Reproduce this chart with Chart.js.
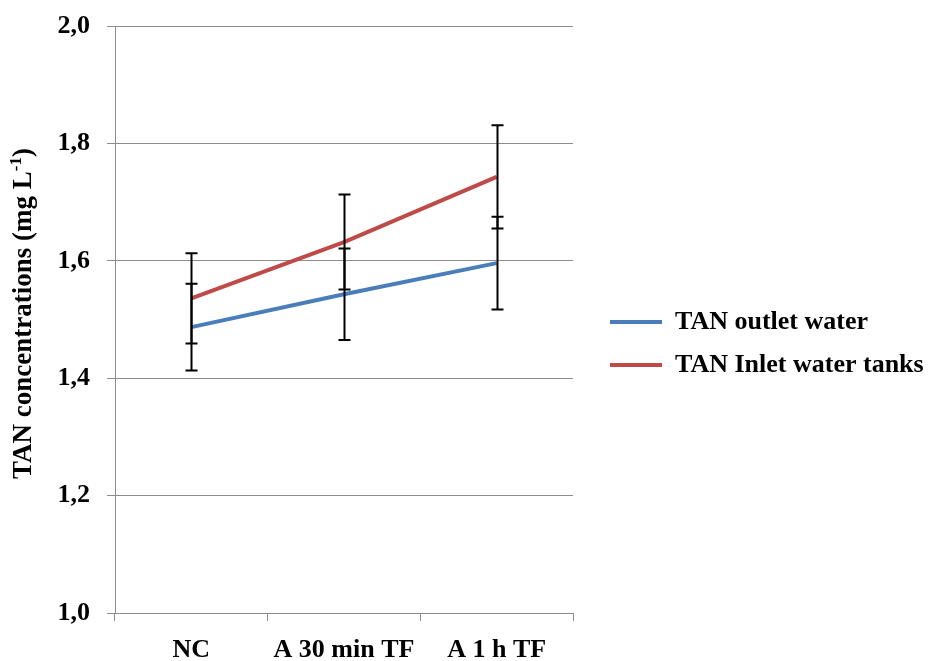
<!DOCTYPE html>
<html>
<head>
<meta charset="utf-8">
<script src="https://cdn.jsdelivr.net/npm/chart.js@4/dist/chart.umd.min.js"></script>
<style>
  html, body { margin: 0; padding: 0; background: #fff; overflow: hidden; }
  #wrap { width: 931px; height: 661px; }
</style>
</head>
<body>
<div id="wrap"><canvas id="c" width="931" height="661"></canvas></div>
<script>
// Treatments on the x axis
const categories = ['NC', 'A 30 min TF', 'A 1 h TF'];

// Mean TAN concentrations (mg L-1) and their standard deviations
const outletValues = [1.487, 1.543, 1.596];
const outletErrors = [0.074, 0.078, 0.079];
const inletValues  = [1.536, 1.632, 1.743];
const inletErrors  = [0.077, 0.081, 0.088];

// Y axis tick labels (decimal comma)
const yTickLabels = ['1,0', '1,2', '1,4', '1,6', '1,8', '2,0'];

const SERIF = '"Liberation Serif", "Times New Roman", serif';
const AXIS_GREY = '#8c8c8c';

// Vertical error bars with caps, positioned through the chart scales
const errorBarPlugin = {
  id: 'errorBarPlugin',
  afterDatasetsDraw(chart) {
    const { ctx } = chart;
    const xs = chart.scales.x, ys = chart.scales.y;
    ctx.save();
    ctx.strokeStyle = '#000';
    ctx.lineWidth = 2;
    chart.data.datasets.forEach(ds => {
      const errs = ds.errorBars || [];
      ds.data.forEach((v, i) => {
        const e = errs[i];
        if (e == null) return;
        const px = Math.round(xs.getPixelForValue(i)) + 0.5;
        const top = ys.getPixelForValue(v + e);
        const bot = ys.getPixelForValue(v - e);
        const cap = 6;
        ctx.beginPath();
        ctx.moveTo(px, top); ctx.lineTo(px, bot);
        ctx.moveTo(px - cap, top); ctx.lineTo(px + cap, top);
        ctx.moveTo(px - cap, bot); ctx.lineTo(px + cap, bot);
        ctx.stroke();
      });
    });
    ctx.restore();
  }
};

// Rotated y-axis title with a superscript unit exponent
const yTitlePlugin = {
  id: 'yTitlePlugin',
  afterDraw(chart) {
    const { ctx, chartArea } = chart;
    const main = 'TAN concentrations (mg L';
    const sup = '-1';
    const tail = ')';
    const bigFont = 'bold 27px ' + SERIF;
    const smallFont = 'bold 17px ' + SERIF;
    ctx.save();
    ctx.font = bigFont;
    const wMain = ctx.measureText(main).width;
    const wTail = ctx.measureText(tail).width;
    ctx.font = smallFont;
    const wSup = ctx.measureText(sup).width;
    const total = wMain + wSup + wTail;
    const cy = (chartArea.top + chartArea.bottom) / 2 - 6;
    ctx.translate(31, cy);
    ctx.rotate(-Math.PI / 2);
    ctx.fillStyle = '#000';
    ctx.textBaseline = 'alphabetic';
    ctx.textAlign = 'left';
    let x = -total / 2;
    ctx.font = bigFont;
    ctx.fillText(main, x, 0);
    x += wMain;
    ctx.font = smallFont;
    ctx.fillText(sup, x, -10);
    x += wSup;
    ctx.font = bigFont;
    ctx.fillText(tail, x, 0);
    ctx.restore();
  }
};

// Gives the right-hand legend a fixed width so long labels fit on one line
const legendWidthPlugin = {
  id: 'legendWidth',
  beforeLayout(chart, args, opts) {
    const lg = chart.legend;
    if (lg && !lg.__fixedWidth) {
      const fit = lg.fit;
      lg.fit = function () {
        fit.call(this);
        this.width = opts.width;
      };
      lg.__fixedWidth = true;
    }
  }
};

new Chart(document.getElementById('c'), {
  type: 'line',
  data: {
    labels: categories,
    datasets: [
      {
        label: 'TAN outlet water',
        data: outletValues,
        errorBars: outletErrors,
        borderColor: '#4a7ebb',
        backgroundColor: '#4a7ebb',
        borderWidth: 4,
        pointRadius: 0,
        tension: 0,
        fill: false
      },
      {
        label: 'TAN Inlet water tanks',
        data: inletValues,
        errorBars: inletErrors,
        borderColor: '#be4b48',
        backgroundColor: '#be4b48',
        borderWidth: 4,
        pointRadius: 0,
        tension: 0,
        fill: false
      }
    ]
  },
  options: {
    responsive: false,
    animation: false,
    devicePixelRatio: 1,
    layout: { padding: { left: 0, top: 26, right: 0, bottom: 0 } },
    plugins: {
      title: { display: false },
      tooltip: { enabled: false },
      legendWidth: { width: 338 },
      legend: {
        display: true,
        position: 'right',
        labels: {
          boxWidth: 52,
          boxHeight: 4,
          padding: 17,
          color: '#000',
          font: { family: SERIF, size: 26, weight: 'bold' },
          generateLabels(chart) {
            return Chart.defaults.plugins.legend.labels.generateLabels(chart)
              .map(it => Object.assign({}, it, { fillStyle: it.strokeStyle, lineWidth: 0 }));
          }
        }
      }
    },
    scales: {
      x: {
        type: 'category',
        offset: true,
        grid: {
          offset: true,
          drawOnChartArea: false,
          drawTicks: true,
          tickLength: 8,
          color: AXIS_GREY
        },
        border: { display: true, color: AXIS_GREY, width: 1 },
        ticks: {
          color: '#000',
          padding: 14,
          maxRotation: 0,
          font: { family: SERIF, size: 26, weight: 'bold' }
        },
        afterFit(s) { s.height = 48; }
      },
      y: {
        type: 'linear',
        min: 1.0,
        max: 2.0,
        grid: {
          color: AXIS_GREY,
          lineWidth: 1,
          drawTicks: true,
          tickLength: 8
        },
        border: { display: true, color: AXIS_GREY, width: 1 },
        ticks: {
          stepSize: 0.2,
          color: '#000',
          padding: 17,
          font: { family: SERIF, size: 26, weight: 'bold' },
          callback(value, index) { return yTickLabels[index]; }
        },
        title: { display: false },
        afterFit(s) {
          s.width = 115;
          s.paddingTop = 16;
          s.paddingBottom = 16;
        }
      },
      gap: {
        type: 'linear',
        position: 'right',
        display: true,
        grid: { display: false },
        border: { display: false },
        ticks: { display: false },
        afterFit(s) { s.width = 20; }
      }
    }
  },
  plugins: [errorBarPlugin, yTitlePlugin, legendWidthPlugin]
});
</script>
</body>
</html>
